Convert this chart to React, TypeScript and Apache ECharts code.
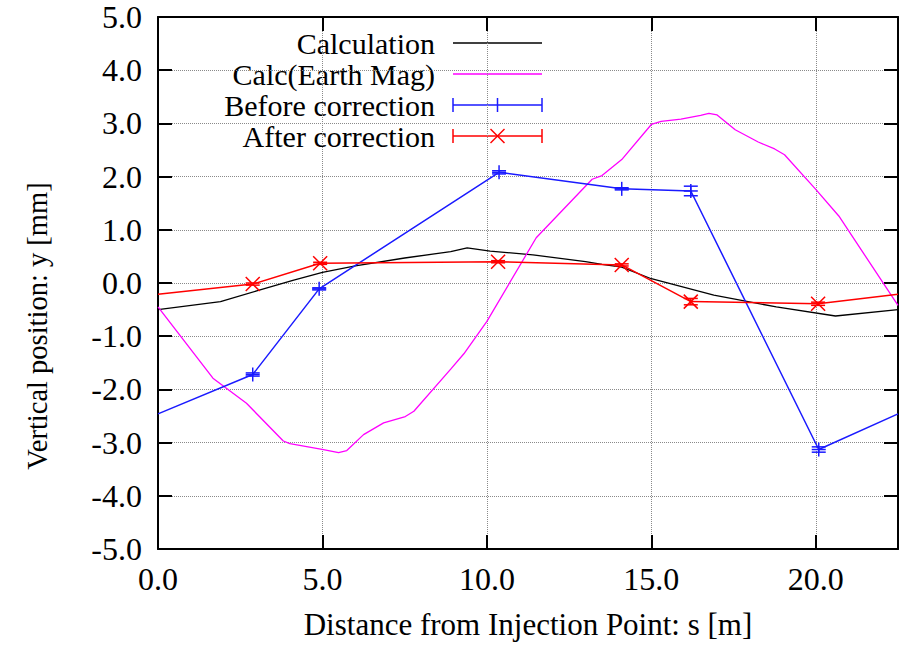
import React, { useEffect, useRef } from "react";
import * as echarts from "echarts";

// ---- Data ----
const calcS = [0, 1.9, 3.0, 4.1, 5.0, 6.0, 7.5, 8.9, 9.4, 10.1, 11.4, 13.0, 13.5, 14.1, 15.0, 16.9, 18.8, 20.6, 22.5];
const calcY = [-0.5, -0.35, -0.15, 0.05, 0.2, 0.32, 0.47, 0.59, 0.66, 0.6, 0.53, 0.4, 0.35, 0.3, 0.08, -0.23, -0.45, -0.62, -0.5];

const earthS = [0, 1.67, 2.69, 3.81, 4.01, 5.03, 5.49, 5.74, 6.25, 6.86, 7.52, 7.78, 8.9, 9.3, 10.0, 11.5, 13.2, 13.5, 14.1, 15.0, 15.3, 15.9, 16.5, 16.75, 17.0, 17.55, 18.25, 18.75, 19.05, 20.0, 20.7, 22.5];
const earthY = [-0.45, -1.79, -2.26, -2.97, -3.02, -3.13, -3.19, -3.15, -2.85, -2.63, -2.51, -2.41, -1.62, -1.33, -0.72, 0.85, 1.95, 2.02, 2.32, 2.98, 3.04, 3.08, 3.15, 3.19, 3.16, 2.88, 2.65, 2.52, 2.41, 1.76, 1.26, -0.42];

const beforeS = [2.88, 4.9, 10.37, 14.1, 16.2, 20.09];
const beforeY = [-1.72, -0.11, 2.08, 1.77, 1.73, -3.13];
const beforeErr = [0.03, 0.02, 0.03, 0.02, 0.09, 0.05];
const beforeBoundaryY = -2.46; // value at s = 0 and s = 22.5 (ring closes)

const afterS = [2.88, 4.93, 10.34, 14.1, 16.2, 20.07];
const afterY = [-0.02, 0.37, 0.4, 0.34, -0.35, -0.39];
const afterErr = [0.02, 0.02, 0.02, 0.02, 0.06, 0.03];
const afterBoundaryY = -0.21;

const xTicks = [0, 5, 10, 15, 20];
const S_MAX = 22.5;

const seriesNames = ["Calculation", "Calc(Earth Mag)", "Before correction", "After correction"];
const colors = ["#000000", "#ff00ff", "#1a1aff", "#ff0000"];

const FONT = "'Liberation Serif', 'Times New Roman', 'DejaVu Serif', serif";

function pairs(xs: number[], ys: number[]) {
  return xs.map((x, i) => [x, ys[i]]);
}

function makeErrRender(color: string, marker: "plus" | "cross") {
  return (_params: any, api: any) => {
    const x = api.value(0);
    const y = api.value(1);
    const e = api.value(2);
    const c = api.coord([x, y]);
    const hi = api.coord([x, y + e]);
    const lo = api.coord([x, y - e]);
    const cap = 7;
    const m = 7;
    const style = { stroke: color, lineWidth: 1.5 };
    const children: any[] = [
      { type: "line", shape: { x1: c[0], y1: hi[1], x2: c[0], y2: lo[1] }, style },
      { type: "line", shape: { x1: c[0] - cap, y1: hi[1], x2: c[0] + cap, y2: hi[1] }, style },
      { type: "line", shape: { x1: c[0] - cap, y1: lo[1], x2: c[0] + cap, y2: lo[1] }, style },
    ];
    if (marker === "plus") {
      children.push({ type: "line", shape: { x1: c[0] - m, y1: c[1], x2: c[0] + m, y2: c[1] }, style });
      children.push({ type: "line", shape: { x1: c[0], y1: c[1] - m, x2: c[0], y2: c[1] + m }, style });
    } else {
      children.push({ type: "line", shape: { x1: c[0] - m, y1: c[1] - m, x2: c[0] + m, y2: c[1] + m }, style });
      children.push({ type: "line", shape: { x1: c[0] - m, y1: c[1] + m, x2: c[0] + m, y2: c[1] - m }, style });
    }
    return { type: "group", children };
  };
}

function legendGraphic() {
  const textRight = 435;
  const lx1 = 453;
  const lx2 = 542;
  const mid = (lx1 + lx2) / 2;
  const ys = [43, 74, 105, 136];
  const els: any[] = [];
  seriesNames.forEach((name, i) => {
    const y = ys[i];
    const col = colors[i];
    const st = { stroke: col, lineWidth: 1.5 };
    els.push({
      type: "text",
      x: textRight,
      y: y,
      style: {
        text: name,
        fontSize: 30,
        lineHeight: 28,
        fontFamily: FONT,
        fill: "#000",
        align: "right",
        verticalAlign: "middle",
        textAlign: "right",
        textVerticalAlign: "middle",
      },
    });
    els.push({ type: "line", shape: { x1: lx1, y1: y, x2: lx2, y2: y }, style: st });
    if (i >= 2) {
      els.push({ type: "line", shape: { x1: lx1, y1: y - 7, x2: lx1, y2: y + 7 }, style: st });
      els.push({ type: "line", shape: { x1: lx2, y1: y - 7, x2: lx2, y2: y + 7 }, style: st });
      if (i === 2) {
        els.push({ type: "line", shape: { x1: mid, y1: y - 7, x2: mid, y2: y + 7 }, style: st });
      } else {
        els.push({ type: "line", shape: { x1: mid - 7, y1: y - 7, x2: mid + 7, y2: y + 7 }, style: st });
        els.push({ type: "line", shape: { x1: mid - 7, y1: y + 7, x2: mid + 7, y2: y - 7 }, style: st });
      }
    }
  });
  return els;
}

export default function App() {
  const ref = useRef<HTMLDivElement>(null);
  useEffect(() => {
    if (!ref.current) return;
    const chart = echarts.init(ref.current, undefined, { renderer: "svg" });
    const axisLine = { show: true, onZero: false, lineStyle: { color: "#000", width: 2 } };
    const tick = { show: true, inside: true, length: 14, lineStyle: { color: "#000", width: 2 } };
    const split = { show: true, lineStyle: { color: "#8a8a8a", width: 1, type: "dotted" } };
    const label = { color: "#000", fontSize: 32, fontFamily: FONT };
    chart.setOption({
      animation: false,
      backgroundColor: "#fff",
      grid: { left: 158, right: 3, top: 17, bottom: 93, containLabel: false },
      xAxis: [
        {
          type: "value",
          min: 0,
          max: S_MAX,
          interval: 5,
          axisLine,
          axisTick: tick,
          splitLine: split,
          axisLabel: { ...label, margin: 14, showMaxLabel: false, formatter: (v: number) => (xTicks.includes(v) ? v.toFixed(1) : "") },
          name: "Distance from Injection Point: s [m]",
          nameLocation: "middle",
          nameGap: 60,
          nameTextStyle: { color: "#000", fontSize: 31, fontFamily: FONT },
        },
        {
          type: "value",
          position: "top",
          min: 0,
          max: S_MAX,
          interval: 5,
          axisLine,
          axisTick: tick,
          splitLine: { show: false },
          axisLabel: { show: false },
        },
      ],
      yAxis: [
        {
          type: "value",
          min: -5,
          max: 5,
          interval: 1,
          axisLine,
          axisTick: tick,
          splitLine: split,
          axisLabel: { ...label, margin: 16, formatter: (v: number) => v.toFixed(1) },
          name: "Vertical position: y [mm]",
          nameLocation: "middle",
          nameGap: 106,
          nameTextStyle: { color: "#000", fontSize: 28.5, fontFamily: FONT, padding: [0, 86, 0, 0] },
        },
        {
          type: "value",
          position: "right",
          min: -5,
          max: 5,
          interval: 1,
          axisLine,
          axisTick: tick,
          splitLine: { show: false },
          axisLabel: { show: false },
        },
      ],
      series: [
        {
          name: seriesNames[0],
          type: "line",
          data: pairs(calcS, calcY),
          showSymbol: false,
          lineStyle: { color: colors[0], width: 1.3 },
          itemStyle: { color: colors[0] },
          z: 3,
        },
        {
          name: seriesNames[1],
          type: "line",
          data: pairs(earthS, earthY),
          showSymbol: false,
          lineStyle: { color: colors[1], width: 1.3 },
          itemStyle: { color: colors[1] },
          z: 3,
        },
        {
          name: seriesNames[2],
          type: "line",
          data: [[0, beforeBoundaryY], ...pairs(beforeS, beforeY), [S_MAX, beforeBoundaryY]],
          showSymbol: false,
          lineStyle: { color: colors[2], width: 1.5 },
          itemStyle: { color: colors[2] },
          z: 4,
        },
        {
          name: seriesNames[2] + " err",
          type: "custom",
          data: beforeS.map((s, i) => [s, beforeY[i], beforeErr[i]]),
          encode: { x: 0, y: 1 },
          renderItem: makeErrRender(colors[2], "plus"),
          z: 5,
        },
        {
          name: seriesNames[3],
          type: "line",
          data: [[0, afterBoundaryY], ...pairs(afterS, afterY), [S_MAX, afterBoundaryY]],
          showSymbol: false,
          lineStyle: { color: colors[3], width: 1.5 },
          itemStyle: { color: colors[3] },
          z: 4,
        },
        {
          name: seriesNames[3] + " err",
          type: "custom",
          data: afterS.map((s, i) => [s, afterY[i], afterErr[i]]),
          encode: { x: 0, y: 1 },
          renderItem: makeErrRender(colors[3], "cross"),
          z: 5,
        },
      ],
      graphic: legendGraphic(),
    });
    return () => chart.dispose();
  }, []);
  return (
    <div
      ref={ref}
      style={{ position: "absolute", left: 0, top: 0, width: 901, height: 645 }}
    />
  );
}
